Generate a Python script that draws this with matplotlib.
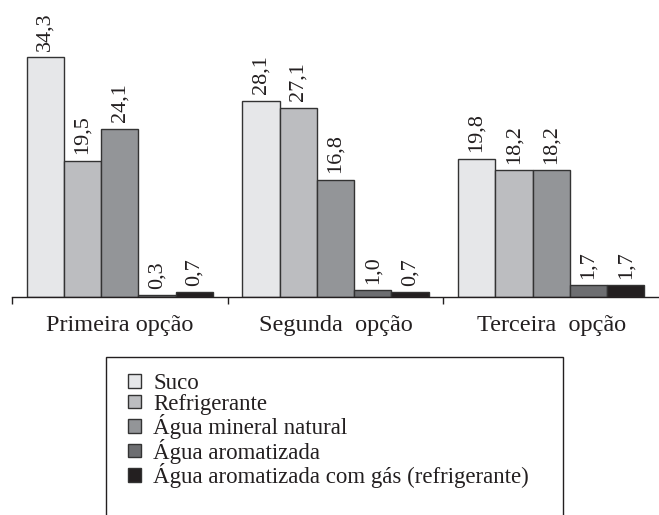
import matplotlib
matplotlib.use("Agg")
import matplotlib.pyplot as plt
import numpy as np
from matplotlib.patches import Rectangle

plt.rcParams['font.family'] = ['Liberation Serif', 'DejaVu Serif']

groups = ["Primeira opção", "Segunda  opção", "Terceira  opção"]
series = ["Suco", "Refrigerante", "Água mineral natural", "Água aromatizada",
          "Água aromatizada com gás (refrigerante)"]
suco = [34.3, 28.1, 19.8]
refrigerante = [19.5, 27.1, 18.2]
agua_mineral = [24.1, 16.8, 18.2]
agua_aromatizada = [0.3, 1.0, 1.7]
agua_gas = [0.7, 0.7, 1.7]
values = [suco, refrigerante, agua_mineral, agua_aromatizada, agua_gas]
colors = ["#e6e7e9", "#bcbdc0", "#939598", "#6d6e71", "#231f20"]

W, H = 659, 515
fig = plt.figure(figsize=(W / 100, H / 100), dpi=100)
ax = fig.add_axes([12 / W, 1 - 297 / H, 1 - 12 / W, 297 / H])

x = np.arange(len(groups))
bw = 0.173
handles = []
for i, (vals, c, name) in enumerate(zip(values, colors, series)):
    pos = x + (i - 2) * bw
    b = ax.bar(pos, vals, width=bw, color=c, edgecolor="#333333", linewidth=1.0, label=name)
    handles.append(b)
    for px, v in zip(pos, vals):
        ax.annotate(f"{v:.1f}".replace(".", ","), (px, v), xytext=(0, 4.5),
                    textcoords="offset points", rotation=90, ha="center", va="bottom",
                    fontsize=16, color="#231f20")

ax.set_xlim(-0.5, 2.5)
ax.set_ylim(0, 42.5)
for s in ["left", "right", "top"]:
    ax.spines[s].set_visible(False)
ax.spines["bottom"].set_color("#231f20")
ax.spines["bottom"].set_linewidth(1.0)
ax.set_yticks([])
ax.set_xticks([-0.5, 0.5, 1.5])
ax.set_xticklabels([])
ax.tick_params(axis="x", which="major", direction="out", length=5, width=1.0, color="#231f20")
ax.set_xticks(x, minor=True)
ax.set_xticklabels(groups, minor=True, fontsize=17.5, color="#231f20")
ax.tick_params(axis="x", which="minor", length=0, pad=13)

leg = fig.legend(handles=handles, labels=series, loc="upper left",
                 bbox_to_anchor=(128 / W, 1 - 373 / H), frameon=False,
                 fontsize=16.5, handlelength=0.55, handleheight=0.55,
                 handletextpad=0.55, labelspacing=-0.02, borderpad=0, borderaxespad=0)
for t in leg.get_texts():
    t.set_color("#231f20")

fig.patches.append(Rectangle((106 / W, -0.05), (563 - 106) / W, 1 - 357 / H + 0.05,
                             transform=fig.transFigure, fill=False,
                             edgecolor="#231f20", linewidth=1.0))

fig.savefig("out.png", dpi=100)
